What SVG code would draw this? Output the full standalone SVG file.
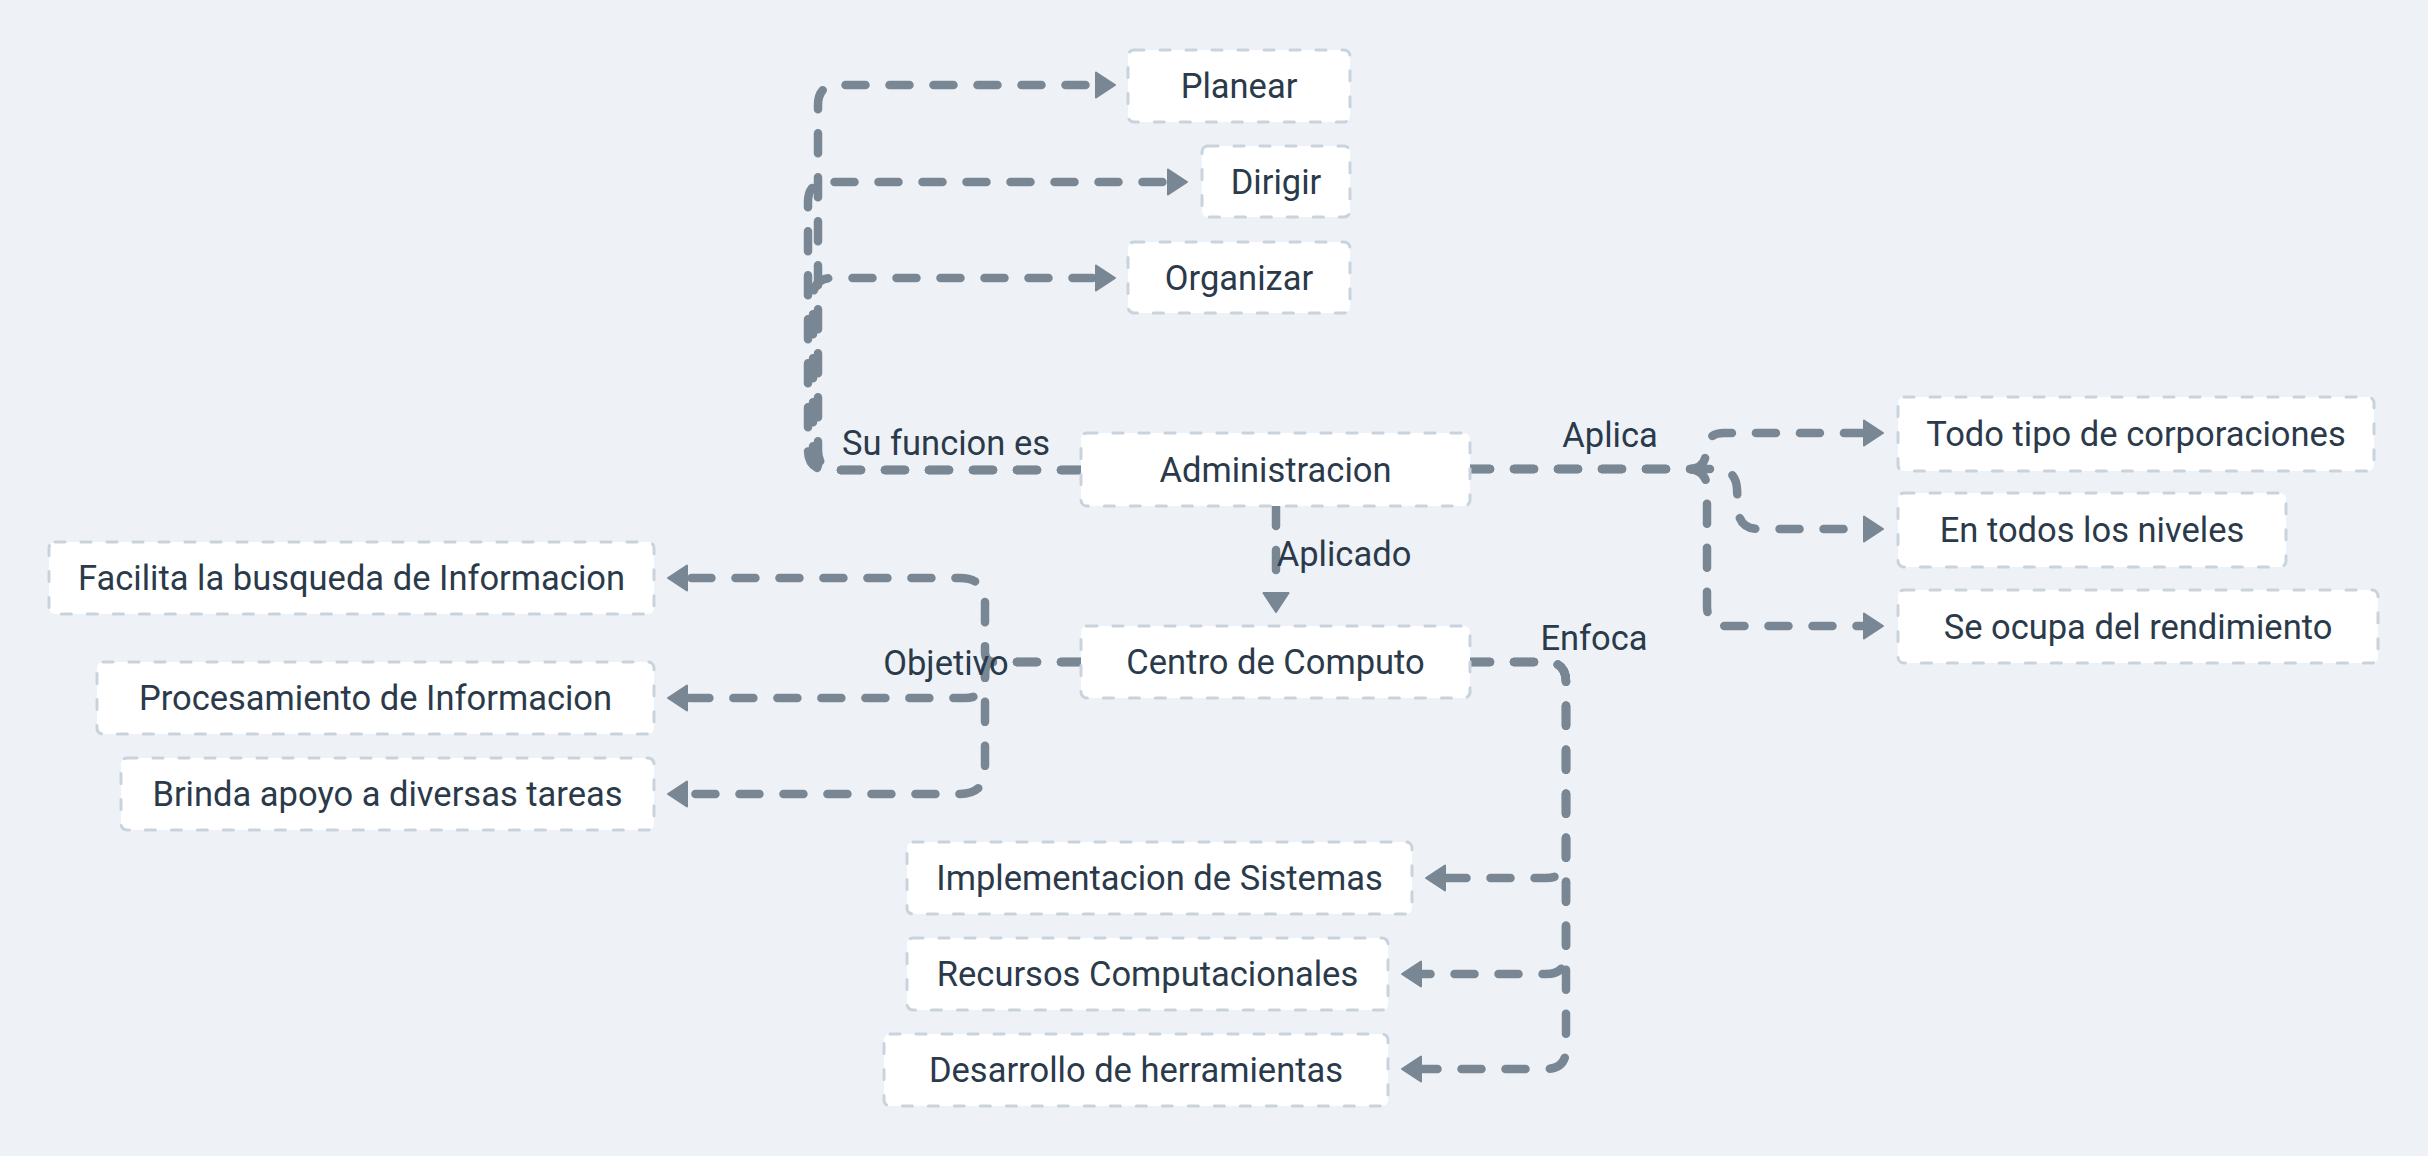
<svg xmlns="http://www.w3.org/2000/svg" width="2428" height="1156" viewBox="0 0 2428 1156">
<style>
.bg{fill:#eef2f6}
.n rect{fill:#ffffff;stroke:#c9d3dd;stroke-width:3;stroke-dasharray:10 16;stroke-linecap:round}
.n text,.lbl{font-family:Roboto,"Liberation Sans",sans-serif;font-size:34.5px;fill:#2b3a4a;text-anchor:middle}
.c path{fill:none;stroke:#798795;stroke-width:8.5;stroke-dasharray:20 24;stroke-linecap:round;stroke-linejoin:round;marker-end:url(#ah)}
</style>
<defs>
<marker id="ah" markerUnits="userSpaceOnUse" markerWidth="30" markerHeight="30" refX="0" refY="12.5" orient="auto" overflow="visible">
<path d="M0,0 L19,12.5 L0,25 Z" fill="#798795" stroke="#798795" stroke-width="2" stroke-linejoin="round"/>
</marker>
</defs>
<rect class="bg" x="0" y="0" width="2428" height="1156"/>
<g id="connectors" class="c">
<path d="M1081,470 L838,470 Q818,470 818,450 L818,105 Q818,85 838,85 L1096,85"/>
<path d="M1081,470 L828,470 Q808,470 808,450 L808,202 Q808,182 828,182 L1168,182"/>
<path d="M1081,470 L833,470 Q813,470 813,450 L813,298 Q813,278 833,278 L1096,278"/>
<path d="M1276,506 L1276,593"/>
<path d="M1470,469 L1688,469 Q1706,469 1706,451 Q1706,433 1724,433 L1864,433"/>
<path d="M1470,469 L1716,469 Q1736,469 1737,489 L1738,509 Q1739,529 1759,529 L1864,529"/>
<path d="M1470,469 L1687,469 Q1707,469 1707,489 L1707,606 Q1707,626 1727,626 L1864,626"/>
<path d="M1470,662 L1546,662 Q1566,662 1566,682 L1566,858 Q1566,878 1546,878 L1445,878"/>
<path d="M1470,662 L1546,662 Q1566,662 1566,682 L1566,954 Q1566,974 1546,974 L1421,974"/>
<path d="M1470,662 L1546,662 Q1566,662 1566,682 L1566,1049 Q1566,1069 1546,1069 L1421,1069"/>
<path d="M1081,662 L995,662 Q985,662 985,652 L985,603 Q985,578 960,578 L687,578"/>
<path d="M1081,662 L995,662 Q985,662 985,672 L985,678 Q985,698 965,698 L687,698"/>
<path d="M1081,662 L995,662 Q985,662 985,672 L985,769 Q985,794 960,794 L687,794"/>
</g>
<g id="labels">
<text class="lbl" x="946" y="455">Su funcion es</text>
<text class="lbl" x="1344" y="566">Aplicado</text>
<text class="lbl" x="946" y="675">Objetivo</text>
<text class="lbl" x="1610" y="447">Aplica</text>
<text class="lbl" x="1594" y="650">Enfoca</text>
</g>
<g id="planear" class="n"><rect x="1128" y="50" width="222" height="72" rx="6"/><text x="1239" y="98">Planear</text></g>
<g id="dirigir" class="n"><rect x="1202" y="146" width="148" height="71" rx="6"/><text x="1276" y="193.5">Dirigir</text></g>
<g id="organizar" class="n"><rect x="1128" y="242" width="222" height="71" rx="6"/><text x="1239" y="289.5">Organizar</text></g>
<g id="administracion" class="n"><rect x="1081" y="433" width="389" height="73" rx="6"/><text x="1275.5" y="481.5">Administracion</text></g>
<g id="centro" class="n"><rect x="1081" y="626" width="389" height="72" rx="6"/><text x="1275.5" y="674">Centro de Computo</text></g>
<g id="todotipo" class="n"><rect x="1898" y="397" width="476" height="74" rx="6"/><text x="2136" y="446">Todo tipo de corporaciones</text></g>
<g id="entodos" class="n"><rect x="1898" y="493" width="388" height="74" rx="6"/><text x="2092" y="542">En todos los niveles</text></g>
<g id="seocupa" class="n"><rect x="1898" y="590" width="480" height="73" rx="6"/><text x="2138" y="638.5">Se ocupa del rendimiento</text></g>
<g id="facilita" class="n"><rect x="49" y="542" width="605" height="72" rx="6"/><text x="351.5" y="590">Facilita la busqueda de Informacion</text></g>
<g id="procesamiento" class="n"><rect x="97" y="662" width="557" height="72" rx="6"/><text x="375.5" y="710">Procesamiento de Informacion</text></g>
<g id="brinda" class="n"><rect x="121" y="758" width="533" height="72" rx="6"/><text x="387.5" y="806">Brinda apoyo a diversas tareas</text></g>
<g id="implementacion" class="n"><rect x="907" y="842" width="505" height="72" rx="6"/><text x="1159.5" y="890">Implementacion de Sistemas</text></g>
<g id="recursos" class="n"><rect x="907" y="938" width="481" height="72" rx="6"/><text x="1147.5" y="986">Recursos Computacionales</text></g>
<g id="desarrollo" class="n"><rect x="884" y="1034" width="504" height="72" rx="6"/><text x="1136" y="1082">Desarrollo de herramientas</text></g>
</svg>
